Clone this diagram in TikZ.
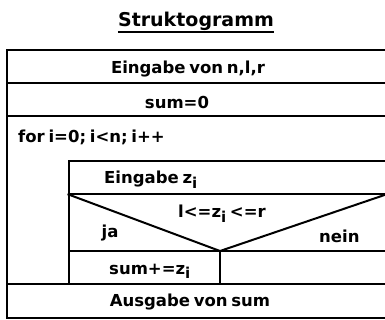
\documentclass[tikz,border=0pt]{standalone}
\usepackage{fontspec}
\setmainfont{DejaVu Sans}[WordSpace=0.65]
\usepackage{tikz}
\usetikzlibrary{positioning,calc}

\newcommand{\subI}{\raisebox{-4.5pt}{\fontsize{15}{15}\selectfont i}}

\begin{document}
\begin{tikzpicture}[
    x=1pt, y=-1pt,
    font=\bfseries\fontsize{16.5}{19}\selectfont,
    frameLine/.style={line width=2pt, draw=black, line cap=rect},
    cellText/.style={inner sep=0pt, anchor=base},
    leftText/.style={inner sep=0pt, anchor=base west},
    titleText/.style={inner sep=0pt, anchor=base, font=\bfseries\fontsize{19}{22}\selectfont}
]
\useasboundingbox (0,0) rectangle (385,320);

% Title with underline
\node[titleText] (title) at (196,27) {Struktogramm};
\draw[line width=2pt] ([yshift=-5pt]title.base west) -- ([yshift=-5pt]title.base east);

% Corner points of the chart
\coordinate (outerTL) at (7,50.5);
\coordinate (outerBL) at (7,318);
\coordinate (innerTL) at (68.5,161.5);
\coordinate (innerBL) at (68.5,284);
\coordinate (condL) at (68.5,194.5);
\coordinate (condR) at (386,194.5);
\coordinate (condTip) at (220,251);
\coordinate (branchB) at (220,284);

% Outer frame and rows
\draw[frameLine] (outerTL -| 392,0) -- (outerTL) -- (outerBL) -- (outerBL -| 392,0);
\draw[frameLine] (7,83) -- (392,83);
\draw[frameLine] (7,116) -- (392,116);
\draw[frameLine] (7,284) -- (392,284);

% Loop body
\draw[frameLine] (innerTL -| 392,0) -- (innerTL) -- (innerBL);
\draw[frameLine] (condL) -- (condR -| 392,0);
\draw[frameLine] (condTip -| innerTL) -- (condTip -| 392,0);

% Condition block
\draw[frameLine] (condL) -- (condTip) -- (condR);
\draw[frameLine] (condTip) -- (branchB);

% Texts
\node[cellText] (input) at (188,74) {Eingabe von n,l,r};
\node[cellText] (init) at (177,108.5) {sum=0};
\node[leftText] (loop) at (18,143) {for i=0; i<n; i++};
\node[leftText] (read) at (104,184) {Eingabe z\subI};
\node[leftText] (cond) at (178,218) {l<=z\subI\ <=r};
\node[leftText] (yes) at (101.5,237) {ja};
\node[leftText] (no) at (319,242) {nein};
\node[leftText] (add) at (109,274) {sum+=z\subI};
\node[cellText] (output) at (190,306.5) {Ausgabe von sum};

\end{tikzpicture}
\end{document}
